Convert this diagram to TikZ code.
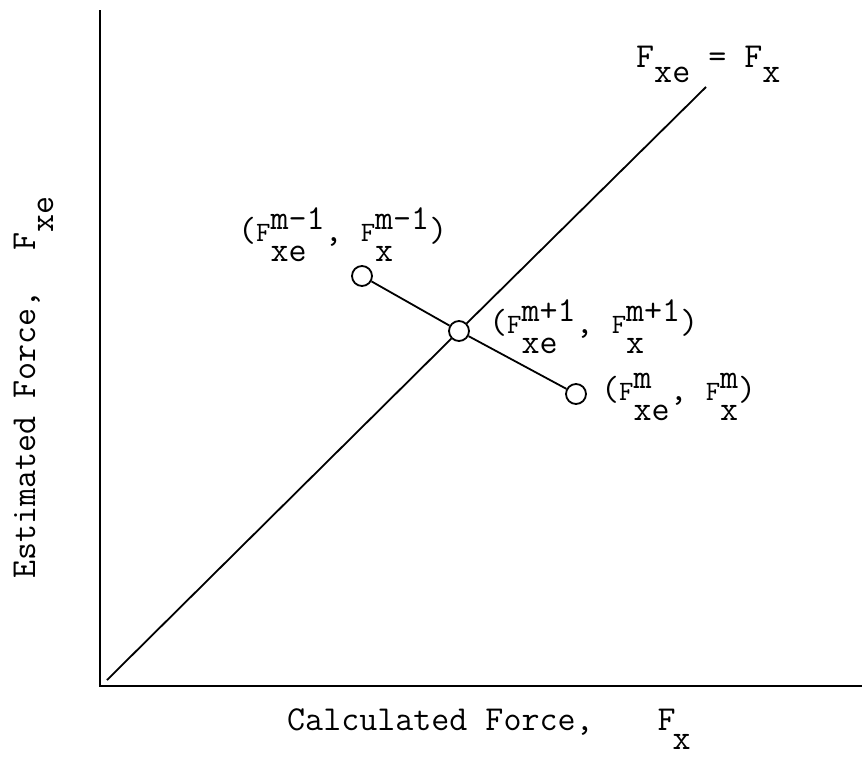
\documentclass[tikz,border=0pt]{standalone}
\usepackage{fontspec}
\usepackage{tikz}
\usetikzlibrary{positioning}

% F with stacked super- and subscript, typewriter style
\newcommand{\Fpair}[2]{{\fontsize{28}{28}\selectfont F}\ooalign{\raisebox{12pt}{#1}\cr\raisebox{-20pt}{#2}\cr}}

\begin{document}
\begin{tikzpicture}[x=1pt, y=-1pt,
    iter/.style={circle, draw, fill=white, line width=1.8pt, minimum size=20pt, inner sep=0pt},
    lbl/.style={anchor=base west, inner sep=0pt, font=\ttfamily\fontsize{35}{40}\selectfont}]
  \useasboundingbox (0,0) rectangle (864,756);

  % Axes
  \coordinate (top) at (100,10);
  \coordinate (orig) at (100,686);
  \coordinate (right) at (862,686);
  \draw[line width=2.2pt] (top) -- (orig) -- (right);

  % Iterates
  \node[iter] (pm1) at (362,276) {};
  \node[iter] (pp1) at (459,331) {};
  \node[iter] (pm) at (576,394) {};

  % Line of equality
  \coordinate (d0) at (107,680);
  \coordinate (d1) at (706,87);
  \draw[line width=1.8pt] (d0) -- (pp1) -- (d1);

  % Secant between iterates
  \draw[line width=1.8pt] (pm1) -- (pp1) -- (pm);

  % Labels
  \node[lbl] (eq) at (636,67) {F\raisebox{-15pt}{xe} = F\raisebox{-15pt}{x}};
  \node[lbl] (lm1) at (238,241) {(\Fpair{m-1}{xe}, \Fpair{m-1}{x})};
  \node[lbl] (lp1) at (489,333) {(\Fpair{m+1}{xe}, \Fpair{m+1}{x})};
  \node[lbl] (lm) at (601,400) {(\Fpair{m}{xe}, \Fpair{m}{x})};
  \node[lbl] (xlab) at (287,730) {Calculated Force,\hspace{64pt}F\hspace{-3pt}\raisebox{-19pt}{x}};
  \node[lbl, rotate=90] (ylab) at (35,579) {Estimated Force,\hspace{40pt}F\raisebox{-18pt}{xe}};
\end{tikzpicture}
\end{document}
